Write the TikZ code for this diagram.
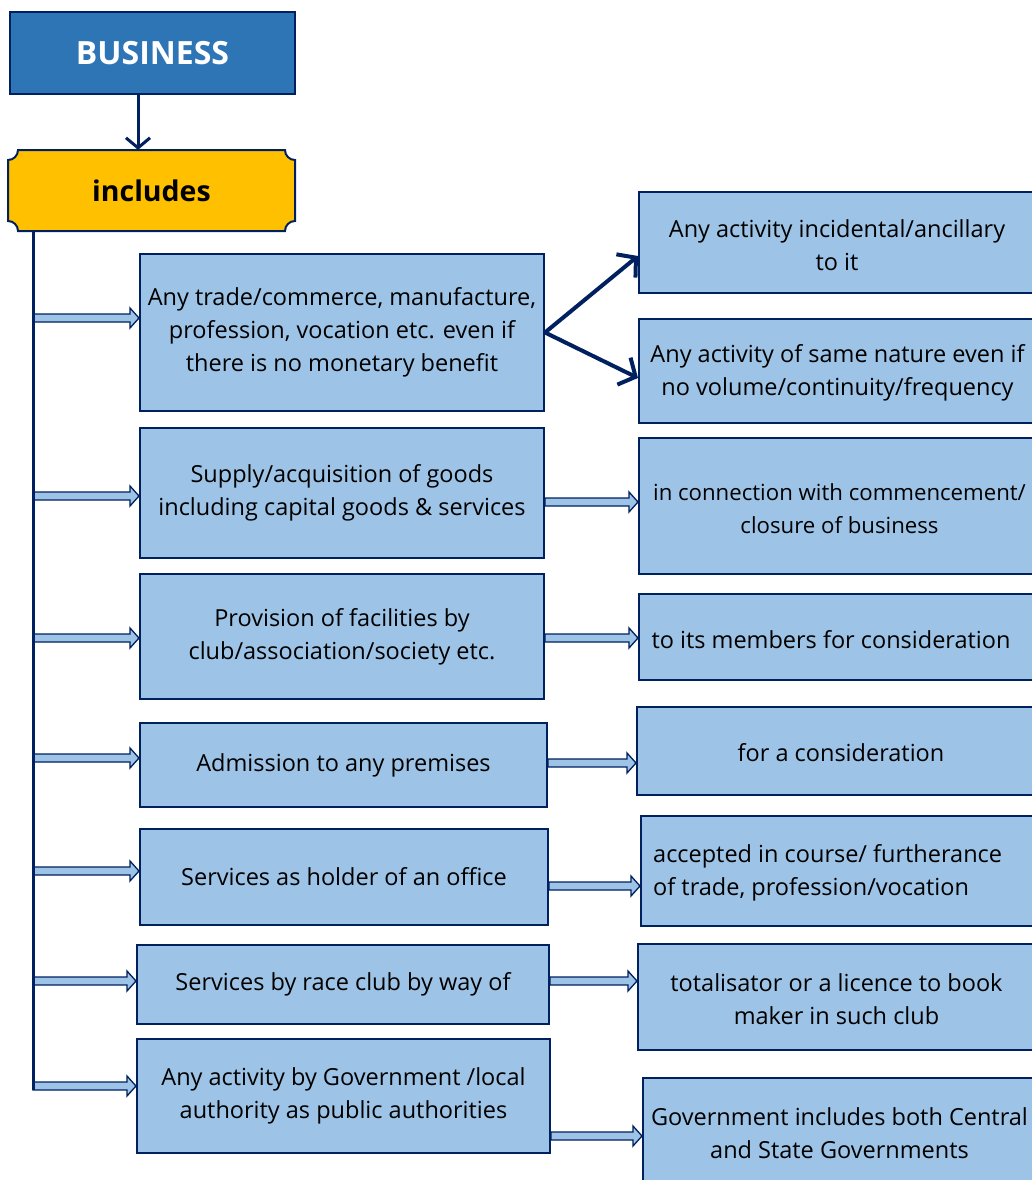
\documentclass[tikz,border=0pt]{standalone}
\usepackage{fontspec}
\setmainfont{Open Sans}
\usetikzlibrary{arrows.meta,calc,positioning}
\definecolor{navy}{HTML}{002060}
\definecolor{boxblue}{HTML}{9DC3E6}
\definecolor{headblue}{HTML}{2E75B6}
\definecolor{gold}{HTML}{FFC000}
\tikzset{
  item/.style={draw=navy, line width=2pt, fill=boxblue, align=center,
    font=\fontsize{23.5}{33}\selectfont, inner sep=0pt},
  itemtext/.style={font=\fontsize{23.5}{33}\selectfont, align=center, inner sep=0pt},
  thin arrow/.style={draw=navy, line width=4pt, -{Straight Barb[length=13pt, width=30pt]}}
}
% block arrow from #1 to #2 (same height)
\newcommand{\blockarrow}[2]{%
  \draw[navy, line width=1.3pt, fill=boxblue, line join=miter]
    ($(#1)+(0,-4)$) -- ($(#2)+(-9,-4)$) -- ($(#2)+(-9,-10)$) -- (#2)
    -- ($(#2)+(-9,10)$) -- ($(#2)+(-9,4)$) -- ($(#1)+(0,4)$) -- cycle;}
\begin{document}
\begin{tikzpicture}[x=1pt, y=-1pt]
	\useasboundingbox (0,0) rectangle (1031,1180);
	% top
	\node[draw=navy, line width=2pt, fill=headblue, minimum width=285pt, minimum height=82pt,
	  text=white, font=\fontsize{32}{34}\selectfont\bfseries] (business) at (152.5,53) {BUSINESS};
	\draw[navy, line width=2pt, fill=gold]
	  (18,150) -- (285,150) arc (180:90:10) -- (295,221) arc (270:180:10) -- (18,231)
	  arc (0:-90:10) -- (8,160) arc (90:0:10) -- cycle;
	\node[minimum width=287pt, minimum height=81pt, font=\fontsize{28.5}{30}\selectfont\bfseries] (includes) at (151.5,190.5) {includes};
	\draw[navy, line width=3pt, -{Straight Barb[length=10pt, width=24pt]}] (business.south -| 138,0) -- (includes.north -| 138,0);

	% left column
	\node[item, minimum width=404pt, minimum height=157pt] (trade) at (342,332.5)
	  {Any trade/commerce, manufacture,\\profession, vocation etc. even if\\there is no monetary benefit};
	\node[item, minimum width=404pt, minimum height=130pt] (supply) at (342,493)
	  {Supply/acquisition of goods\\including capital goods \& services};
	\node[item, minimum width=404pt, minimum height=125pt] (club) at (342,636.5)
	  {Provision of facilities by\\club/association/society etc.};
	\node[item, minimum width=407pt, minimum height=84pt] (premises) at (343.5,765)
	  {Admission to any premises};
	\node[item, minimum width=408pt, minimum height=96pt] (office) at (344,877)
	  {Services as holder of an office};
	\node[item, minimum width=412pt, minimum height=79pt] (race) at (343,984.5)
	  {Services by race club by way of};
	\node[item, minimum width=413pt, minimum height=114pt] (govt) at (343.5,1096)
	  {Any activity by Government /local\\authority as public authorities};

	% right column (boxes run off the page)
	\node[item, minimum width=400pt, minimum height=101pt] (incidental) at (839,242.5) {};
	\node[itemtext] (incidental-t) at (837,245) {Any activity incidental/ancillary\\to it};
	\node[item, minimum width=400pt, minimum height=104pt] (nature) at (839,371) {};
	\node[itemtext] (nature-t) at (837.5,373) {Any activity of same nature even if\\no volume/continuity/frequency};
	\node[item, minimum width=400pt, minimum height=136pt] (closure) at (839,506) {};
	\node[itemtext, font=\fontsize{22.2}{33}\selectfont] (closure-t) at (839.5,509) {in connection with commencement/\\closure of business};
	\node[item, minimum width=400pt, minimum height=86pt] (members) at (839,637) {};
	\node[itemtext] (members-t) at (831,640) {to its members for consideration};
	\node[item, minimum width=402pt, minimum height=88pt] (consider) at (838,751) {};
	\node[itemtext] (consider-t) at (841,753) {for a consideration};
	\node[item, minimum width=398pt, minimum height=110pt] (course) at (840,871) {};
	\node[itemtext, align=left, anchor=west] (course-t) at (653,873) {accepted in course/ furtherance\\of trade, profession/vocation};
	\node[item, minimum width=401pt, minimum height=106pt] (book) at (838.5,997) {};
	\node[itemtext] (book-t) at (836.5,999) {totalisator or a licence to book\\maker in such club};
	\node[item, minimum width=396pt, minimum height=104pt] (central) at (841,1130) {};
	\node[itemtext] (central-t) at (839.5,1133) {Government includes both Central\\and State Governments};

	% trunk and branches
	\coordinate (top) at (33,231);
	\coordinate (bottom) at (33,1090);
	\foreach \nd/\y in {trade/318, supply/496, club/638, premises/758, office/871, race/981, govt/1086}{
	  \coordinate (s) at (33,\y);
	  \coordinate (e) at (\nd.west |- s);
	  \blockarrow{s}{e}
	}
	\draw[navy, line width=3pt] (top) -- (bottom);

	% right side arrows
	\draw[thin arrow] (trade.east) -- (incidental.west |- 0,256);
	\draw[thin arrow] (trade.east) -- (nature.west |- 0,378);
	\foreach \from/\to/\y in {supply/closure/502, club/members/638, premises/consider/763,
	    office/course/886, race/book/981, govt/central/1136}{
	  \coordinate (s) at (\from.east |- 0,\y);
	  \coordinate (e) at (\to.west |- 0,\y);
	  \blockarrow{s}{e}
	}
\end{tikzpicture}
\end{document}
